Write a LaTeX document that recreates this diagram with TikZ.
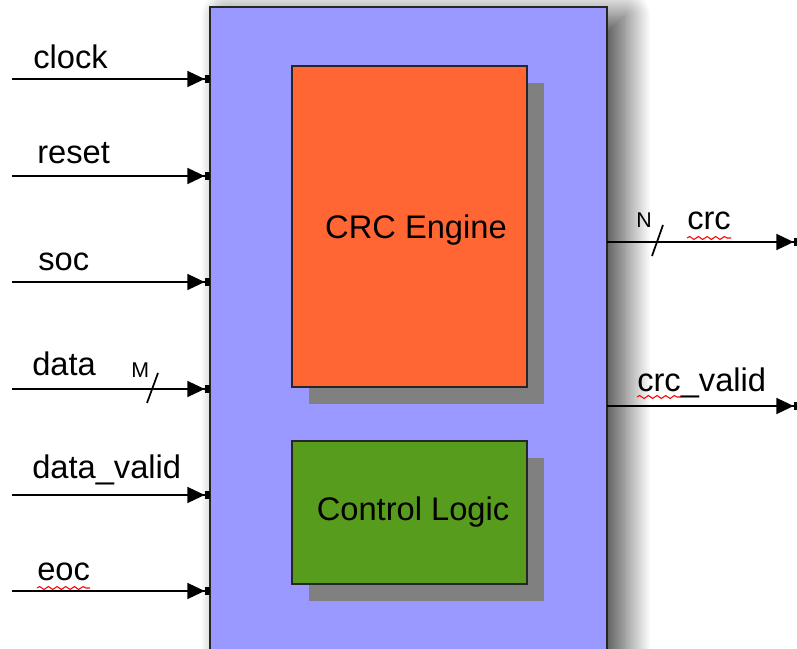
\documentclass[tikz,border=0pt]{standalone}
\usepackage{fontspec}
\setmainfont{Liberation Sans}
\usetikzlibrary{arrows.meta,shadows,shadows.blur,decorations.pathmorphing}
\definecolor{coreblue}{RGB}{153,153,255}
\definecolor{engorange}{RGB}{255,102,51}
\definecolor{ctrlgreen}{RGB}{88,156,30}
\tikzstyle{block}=[draw=black!85,line width=1.2pt,inner sep=0pt,outer sep=0pt,anchor=north west]
\tikzstyle{sub block}=[block,font=\fontsize{24.5}{29}\selectfont,drop shadow={shadow xshift=12.5pt,shadow yshift=-12.5pt,fill=black!50,opacity=1}]
\tikzstyle{sig}=[draw,line width=1.3pt,-{Triangle[length=13pt,width=12pt]Rectangle[length=4pt,width=6pt]}]
\tikzstyle{lbl}=[font=\fontsize{24.5}{29}\selectfont,inner sep=0pt,anchor=base west]
\tikzstyle{width lbl}=[font=\fontsize{16}{19}\selectfont,inner sep=0pt,anchor=base west]
\tikzstyle{slash}=[draw,line width=1.3pt]
\tikzstyle{squig}=[draw=red,line width=0.8pt,decorate,decoration={snake,segment length=6.5pt,amplitude=1.1pt}]

\begin{document}
\begin{tikzpicture}[x=0.75pt,y=-0.75pt]
        \useasboundingbox (0,0) rectangle (797,649);
        \node[block,fill=coreblue,minimum width=297.75pt,minimum height=525pt,
              blur shadow={shadow xshift=13pt,shadow yshift=-7pt,shadow blur radius=20pt,shadow blur steps=40,shadow opacity=75}] (core) at (210,7) {};
        \node[sub block,fill=engorange,minimum width=176.25pt,minimum height=240.75pt] (engine) at (292,66) {};
        \node[lbl,anchor=center] (enginelbl) at (416,230) {CRC Engine};
        \node[sub block,fill=ctrlgreen,minimum width=176.25pt,minimum height=107.25pt] (ctrl) at (292,441) {};
        \node[lbl,anchor=center] (ctrllbl) at (413,512) {Control Logic};
        % inputs
        \coordinate (clk) at (12,79);
        \coordinate (rst) at (12,176);
        \coordinate (soc) at (12,282);
        \coordinate (dat) at (12,389);
        \coordinate (dv) at (12,495);
        \coordinate (eoc) at (12,591);
        \draw[sig] (clk) to (clk -| core.west);
        \draw[sig] (rst) to (rst -| core.west);
        \draw[sig] (soc) to (soc -| core.west);
        \draw[sig] (dat) to (dat -| core.west);
        \draw[sig] (dv) to (dv -| core.west);
        \draw[sig] (eoc) to (eoc -| core.west);
        \node[lbl] (clklbl) at (33,69) {clock};
        \node[lbl] (rstlbl) at (37,164) {reset};
        \node[lbl] (soclbl) at (38,271) {soc};
        \node[lbl] (datlbl) at (32,375) {data};
        \node[lbl] (dvlbl) at (32,478) {data\_valid};
        \node[lbl] (eoclbl) at (37,580) {eoc};
        \node[width lbl] (mlbl) at (131,378) {M};
        \draw[slash] (147,403) -- (158,373);
        % outputs
        \coordinate (crc) at (799,242);
        \coordinate (crcv) at (799,406);
        \draw[sig] (crc -| core.east) to (crc);
        \draw[sig] (crcv -| core.east) to (crcv);
        \node[width lbl] (nlbl) at (636,228) {N};
        \draw[slash] (652,256) -- (663,225);
        \node[lbl] (crclbl) at (687,230) {crc};
        \node[lbl] (crcvlbl) at (637,391) {crc\_valid};
        % spell check marks
        \draw[squig] ([yshift=-6pt]eoclbl.base west) -- ++(53,0);
        \draw[squig] ([yshift=-6pt]crclbl.base west) -- ++(44,0);
        \draw[squig] ([yshift=-4.5pt]crcvlbl.base west) -- ++(44,0);
      \end{tikzpicture}
\end{document}
